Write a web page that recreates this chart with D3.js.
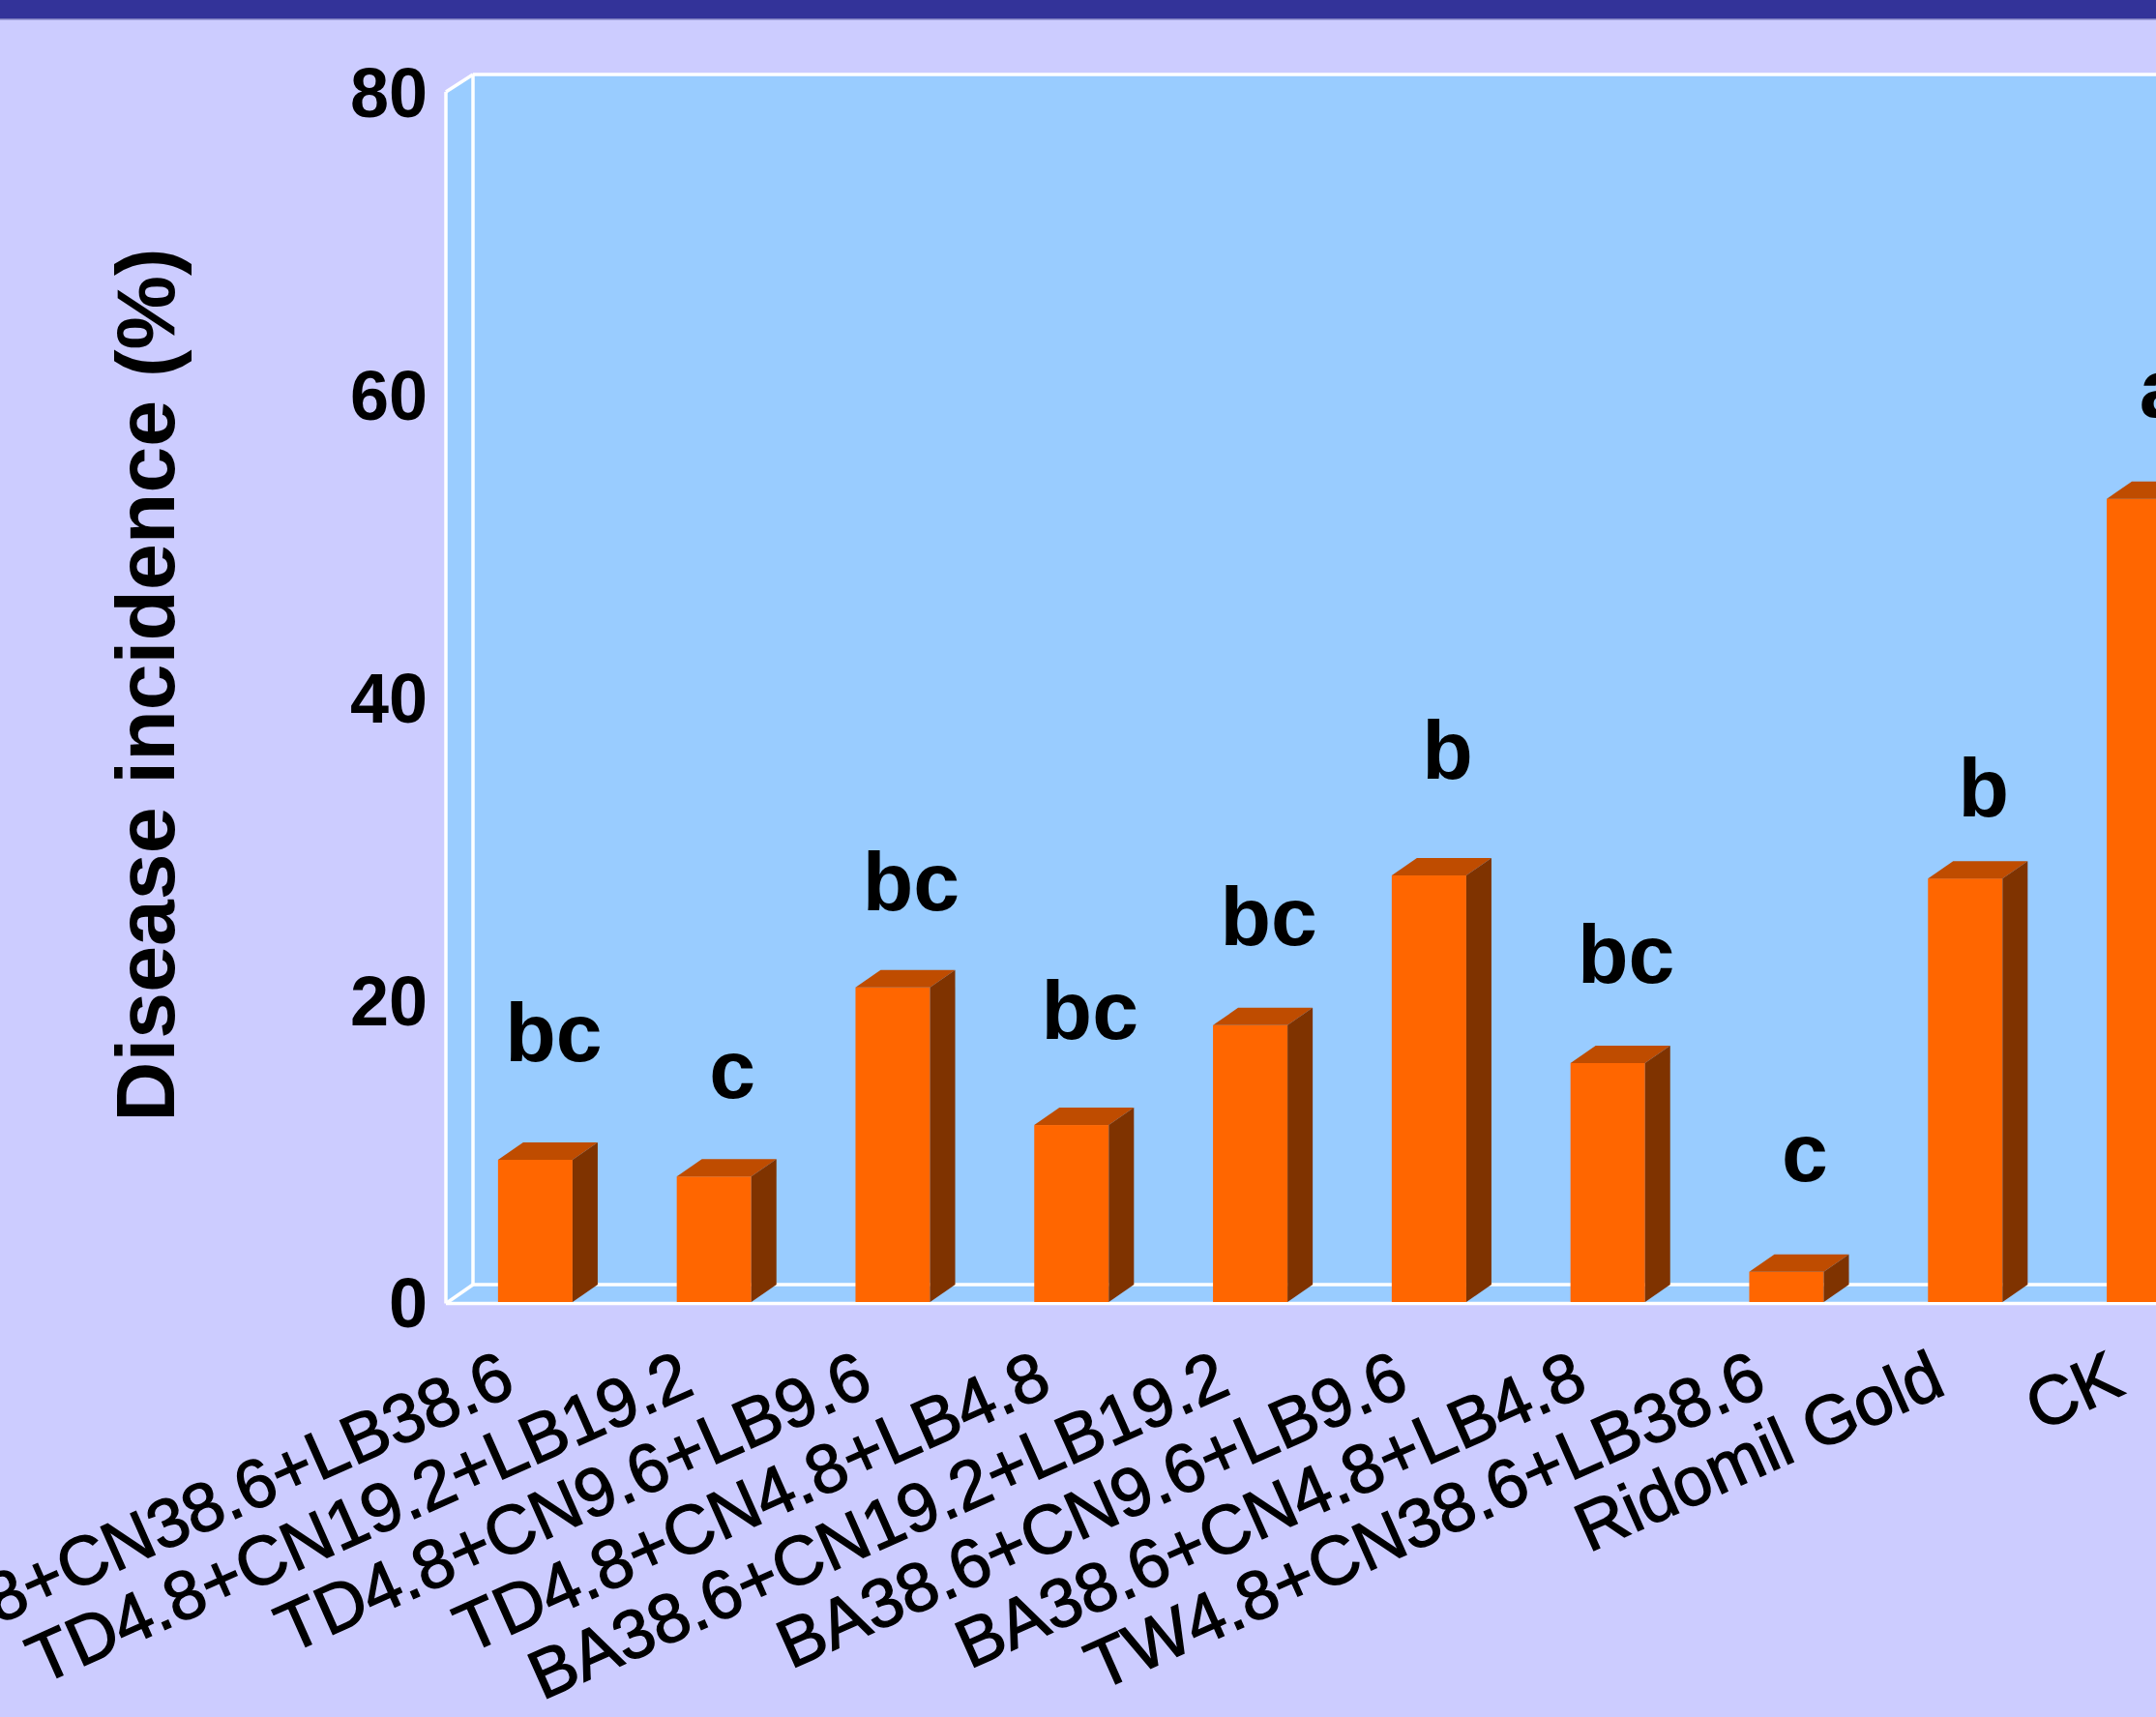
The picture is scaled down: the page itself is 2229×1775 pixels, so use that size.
<!DOCTYPE html>
<html>
<head>
<meta charset="utf-8">
<script src="https://cdn.jsdelivr.net/npm/d3@7"></script>
<style>
  html, body { margin: 0; padding: 0; background: #CCCCFF; overflow: hidden; }
  svg { display: block; }
</style>
</head>
<body>
<script>
// ---- data ----
const categories = [
  "TD4.8+CN38.6+LB38.6",
  "TD4.8+CN19.2+LB19.2",
  "TD4.8+CN9.6+LB9.6",
  "TD4.8+CN4.8+LB4.8",
  "BA38.6+CN19.2+LB19.2",
  "BA38.6+CN9.6+LB9.6",
  "BA38.6+CN4.8+LB4.8",
  "TW4.8+CN38.6+LB38.6",
  "Ridomil Gold",
  "CK"
];
const incidence = [9.4, 8.3, 20.8, 11.7, 18.3, 28.2, 15.8, 2.0, 28.0, 53.1];
const letters = ["bc", "c", "bc", "bc", "bc", "b", "bc", "c", "b", "a"];
const letterHeights = [15.9, 13.5, 25.9, 17.4, 23.6, 34.6, 21.1, 8.0, 32.1, 58.5];
const yTicks = [0, 20, 40, 60, 80];
const yTitle = "Disease incidence (%)";

// ---- layout ----
const W = 2229, H = 1775;
const FONT = "'Liberation Sans', Arial, Helvetica, sans-serif";
const wallDX = 28, barDX = 26, DY = 18;
const frontLeft = 461, step = 184.8;

const svg = d3.select("body").append("svg").attr("width", W).attr("height", H);

svg.append("rect").attr("width", W).attr("height", H).attr("fill", "#CCCCFF");
svg.append("rect").attr("width", W).attr("height", 19).attr("fill", "#333399");
svg.append("rect").attr("y", 19).attr("width", W).attr("height", 1.5).attr("fill", "#7777BB");

const x = d3.scaleBand()
  .domain(categories)
  .range([frontLeft, frontLeft + step * categories.length])
  .paddingInner(0.583)
  .paddingOuter(0.2915);

const y = d3.scaleLinear().domain([0, 80]).range([1346, 95]);

const xL = x.range()[0], xR = x.range()[1];
const yB = y(0), yT = y(80);

// walls
const wallFill = "#99CCFF";
svg.append("rect")
  .attr("x", xL + wallDX).attr("y", yT - DY)
  .attr("width", xR - xL + 10).attr("height", yB - yT)
  .attr("fill", wallFill);
svg.append("polygon")
  .attr("points", [[xL, yT], [xL + wallDX, yT - DY], [xL + wallDX, yB - DY], [xL, yB]].join(" "))
  .attr("fill", wallFill);
svg.append("polygon")
  .attr("points", [[xL, yB], [xL + wallDX, yB - DY], [xR + wallDX, yB - DY], [xR, yB]].join(" "))
  .attr("fill", wallFill);

const edges = [
  [[xL + wallDX, yT - DY], [xR + wallDX, yT - DY]],
  [[xL + wallDX, yT - DY], [xL + wallDX, yB - DY]],
  [[xL + wallDX, yB - DY], [xR + wallDX, yB - DY]],
  [[xL, yT], [xL, yB + 1.5]],
  [[xL, yT], [xL + wallDX, yT - DY]],
  [[xL, yB + 1.5], [xL + wallDX, yB - DY]],
  [[xL, yB + 1.5], [xR, yB + 1.5]]
];
svg.append("g").selectAll("line").data(edges).join("line")
  .attr("x1", d => d[0][0]).attr("y1", d => d[0][1])
  .attr("x2", d => d[1][0]).attr("y2", d => d[1][1])
  .attr("stroke", "#FFFFFF").attr("stroke-width", 3.5);

// bars
const bw = x.bandwidth();
const bars = svg.append("g").selectAll("g").data(categories.map((c, i) => ({ c, v: incidence[i] })))
  .join("g");
bars.append("rect")
  .attr("x", d => x(d.c)).attr("y", d => y(d.v))
  .attr("width", bw).attr("height", d => yB - y(d.v))
  .attr("fill", "#FF6600");
bars.append("polygon")
  .attr("points", d => {
    const x0 = x(d.c), yv = y(d.v);
    return [[x0, yv], [x0 + barDX, yv - DY], [x0 + bw + barDX, yv - DY], [x0 + bw, yv]].join(" ");
  })
  .attr("fill", "#BF4C00");
bars.append("polygon")
  .attr("points", d => {
    const x1 = x(d.c) + bw, yv = y(d.v);
    return [[x1, yv], [x1 + barDX, yv - DY], [x1 + barDX, yB - DY], [x1, yB]].join(" ");
  })
  .attr("fill", "#7F3300");

// significance letters
svg.append("g").selectAll("text").data(categories.map((c, i) => ({ c, t: letters[i], h: letterHeights[i] })))
  .join("text")
  .attr("x", d => x(d.c) + bw / 2 + 19)
  .attr("y", d => y(d.h))
  .attr("text-anchor", "middle")
  .attr("font-family", FONT).attr("font-weight", "bold").attr("font-size", 86)
  .attr("fill", "#000")
  .text(d => d.t);

// y axis
const yAxis = svg.append("g")
  .attr("transform", "translate(442,0)")
  .call(d3.axisLeft(y).tickValues(yTicks).tickSize(0).tickPadding(0).tickFormat(d3.format("d")));
yAxis.select(".domain").remove();
yAxis.selectAll("text")
  .attr("font-family", FONT).attr("font-weight", "bold").attr("font-size", 72)
  .attr("fill", "#000").attr("dy", "0.36em");

// x axis
const xAxis = svg.append("g")
  .attr("transform", "translate(0,1440)")
  .call(d3.axisBottom(x).tickSize(0).tickPadding(0));
xAxis.select(".domain").remove();
xAxis.selectAll("text")
  .attr("y", 0).attr("dy", 0)
  .attr("transform", "translate(-18,0) rotate(-24)")
  .attr("text-anchor", "end")
  .attr("font-family", FONT).attr("font-size", 71)
  .attr("fill", "#000")
  .attr("stroke", "#000").attr("stroke-width", 1.4);

// y title
svg.append("text")
  .attr("transform", "translate(180,708) rotate(-90)")
  .attr("text-anchor", "middle")
  .attr("font-family", FONT).attr("font-weight", "bold").attr("font-size", 86)
  .attr("fill", "#000")
  .text(yTitle);
</script>
</body>
</html>
